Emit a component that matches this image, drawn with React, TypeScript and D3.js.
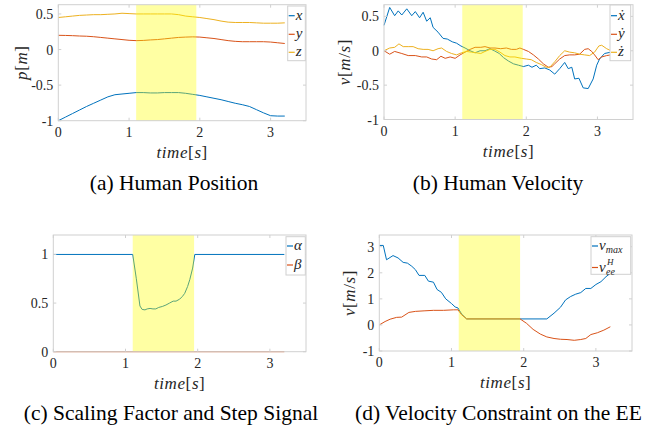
import * as d3 from "d3";
import React from "react";

type Pt = [number, number];

// ---- data ----
const posTime = [0, 0.1, 0.2, 0.3, 0.4, 0.5, 0.6, 0.7, 0.8, 0.9, 1.0, 1.1, 1.2, 1.3, 1.4, 1.5, 1.6, 1.7, 1.8, 1.9, 2.0, 2.1, 2.2, 2.3, 2.4, 2.5, 2.6, 2.7, 2.8, 2.9, 3.0, 3.1, 3.2];
const posX = [-1.0, -0.95, -0.9, -0.85, -0.8, -0.755, -0.71, -0.665, -0.635, -0.625, -0.615, -0.605, -0.605, -0.61, -0.61, -0.605, -0.605, -0.605, -0.615, -0.63, -0.645, -0.665, -0.685, -0.705, -0.73, -0.755, -0.775, -0.8, -0.845, -0.89, -0.93, -0.935, -0.935];
const posY = [0.2, 0.198, 0.195, 0.19, 0.187, 0.18, 0.17, 0.16, 0.15, 0.14, 0.13, 0.125, 0.128, 0.135, 0.14, 0.15, 0.16, 0.17, 0.175, 0.178, 0.175, 0.165, 0.155, 0.14, 0.125, 0.115, 0.11, 0.11, 0.11, 0.11, 0.105, 0.095, 0.085];
const posZ = [0.45, 0.46, 0.47, 0.48, 0.485, 0.49, 0.49, 0.495, 0.5, 0.51, 0.505, 0.5, 0.5, 0.5, 0.5, 0.5, 0.5, 0.49, 0.47, 0.46, 0.45, 0.435, 0.42, 0.4, 0.385, 0.38, 0.38, 0.38, 0.375, 0.37, 0.37, 0.37, 0.375];

const velX: Pt[] = [[0, 0.37], [0.08, 0.63], [0.15, 0.51], [0.2, 0.58], [0.25, 0.52], [0.32, 0.61], [0.39, 0.51], [0.44, 0.57], [0.5, 0.48], [0.55, 0.56], [0.6, 0.43], [0.65, 0.48], [0.69, 0.34], [0.76, 0.27], [0.83, 0.18], [0.89, 0.17], [0.96, 0.13], [1.02, 0.11], [1.08, 0.07], [1.14, 0.04], [1.21, 0.0], [1.28, -0.03], [1.35, 0.0], [1.42, 0.0], [1.49, 0.03], [1.55, 0.0], [1.62, -0.04], [1.68, -0.1], [1.75, -0.15], [1.82, -0.19], [1.89, -0.21], [1.96, -0.23], [2.03, -0.21], [2.08, -0.24], [2.14, -0.21], [2.19, -0.26], [2.26, -0.25], [2.33, -0.28], [2.4, -0.34], [2.47, -0.26], [2.54, -0.17], [2.59, -0.26], [2.64, -0.24], [2.68, -0.41], [2.74, -0.4], [2.8, -0.54], [2.87, -0.55], [2.94, -0.41], [2.99, -0.21], [3.03, -0.12], [3.1, -0.04], [3.19, -0.02]];
const velY: Pt[] = [[0, 0.0], [0.08, -0.05], [0.15, -0.01], [0.25, -0.04], [0.34, -0.07], [0.44, -0.07], [0.53, -0.09], [0.6, -0.09], [0.67, -0.12], [0.74, -0.13], [0.8, -0.08], [0.86, -0.11], [0.93, -0.09], [1.0, -0.11], [1.07, -0.06], [1.14, -0.02], [1.21, 0.02], [1.28, 0.05], [1.36, 0.05], [1.42, 0.06], [1.49, 0.04], [1.56, 0.04], [1.64, 0.03], [1.72, 0.04], [1.79, 0.02], [1.86, 0.02], [1.91, 0.04], [1.96, 0.02], [2.03, -0.01], [2.1, -0.06], [2.17, -0.12], [2.24, -0.19], [2.31, -0.24], [2.36, -0.23], [2.4, -0.19], [2.47, -0.12], [2.54, -0.07], [2.61, -0.06], [2.68, -0.06], [2.75, -0.05], [2.82, 0.02], [2.87, 0.03], [2.92, -0.01], [2.96, -0.06], [3.01, -0.13], [3.06, -0.09], [3.13, -0.07], [3.19, -0.06]];
const velZ: Pt[] = [[0, 0.0], [0.08, 0.04], [0.15, 0.05], [0.21, 0.1], [0.27, 0.06], [0.34, 0.06], [0.41, 0.06], [0.48, 0.03], [0.55, 0.02], [0.62, 0.02], [0.69, 0.0], [0.76, 0.03], [0.81, 0.04], [0.88, -0.01], [0.95, -0.04], [1.02, -0.06], [1.09, -0.03], [1.16, -0.01], [1.23, -0.02], [1.3, -0.03], [1.36, -0.04], [1.42, -0.01], [1.49, 0.02], [1.56, 0.02], [1.63, -0.02], [1.7, -0.07], [1.77, -0.09], [1.84, -0.09], [1.93, -0.11], [2.0, -0.12], [2.07, -0.13], [2.14, -0.17], [2.21, -0.2], [2.28, -0.24], [2.33, -0.24], [2.4, -0.16], [2.47, -0.07], [2.54, 0.0], [2.61, -0.02], [2.68, -0.03], [2.75, -0.05], [2.82, -0.06], [2.89, -0.07], [2.96, -0.02], [3.02, 0.07], [3.06, 0.08], [3.13, 0.03], [3.19, 0.0]];

const alphaSig: Pt[] = [[0, 1], [1.1, 1], [1.15, 0.75], [1.2, 0.47], [1.23, 0.435], [1.27, 0.43], [1.3, 0.44], [1.34, 0.445], [1.38, 0.44], [1.42, 0.44], [1.46, 0.455], [1.51, 0.465], [1.56, 0.48], [1.61, 0.5], [1.66, 0.52], [1.7, 0.52], [1.75, 0.54], [1.79, 0.57], [1.82, 0.6], [1.86, 0.67], [1.89, 0.74], [1.93, 0.86], [1.96, 1.0], [3.2, 1]];
const betaSig: Pt[] = [[0, 0], [3.2, 0]];

const vMax: Pt[] = [[0, 3.05], [0.055, 3.05], [0.1, 2.5], [0.19, 2.66], [0.26, 2.57], [0.33, 2.4], [0.39, 2.37], [0.45, 2.25], [0.5, 2.12], [0.55, 1.9], [0.63, 1.9], [0.68, 1.68], [0.75, 1.64], [0.8, 1.36], [0.86, 1.25], [0.92, 1.0], [1.0, 0.82], [1.05, 0.69], [1.09, 0.65], [1.14, 0.42], [1.21, 0.23], [2.32, 0.23], [2.42, 0.45], [2.51, 0.68], [2.58, 0.96], [2.65, 1.09], [2.72, 1.18], [2.79, 1.24], [2.86, 1.4], [2.93, 1.4], [3.0, 1.55], [3.07, 1.66], [3.14, 1.85], [3.2, 1.98]];
const vEE: Pt[] = [[0, 0.0], [0.08, 0.13], [0.15, 0.22], [0.24, 0.29], [0.31, 0.3], [0.41, 0.48], [0.5, 0.52], [0.62, 0.54], [0.75, 0.56], [0.89, 0.56], [1.03, 0.58], [1.09, 0.58], [1.14, 0.39], [1.21, 0.23], [1.95, 0.23], [2.04, 0.06], [2.13, -0.17], [2.23, -0.35], [2.32, -0.46], [2.42, -0.52], [2.51, -0.55], [2.6, -0.56], [2.7, -0.59], [2.79, -0.56], [2.86, -0.52], [2.93, -0.37], [3.02, -0.3], [3.11, -0.2], [3.2, -0.07]];

const bandStart = 1.1;
const bandEnd = 1.95;
const xTicks = [0, 1, 2, 3];
const posTicks = [-1, -0.5, 0, 0.5];
const velTicks = [-1, -0.5, 0, 0.5];
const scaleTicks = [0, 0.5, 1];
const vcTicks = [-1, 0, 1, 2, 3];

const BLUE = "#0072BD";
const ORANGE = "#D95319";
const YELLOW = "#EDB120";
const GRID = "#d0d0d0";
const INK = "#262626";
const FF = "Liberation Serif";

const zip = (t: number[], v: number[]): Pt[] => t.map((d, i) => [d, v[i]]);

type Label = (x: number, y: number) => React.ReactNode;
type Series = { label: Label; color: string; points: Pt[] };
type Spec = {
  left: number; right: number; top: number; bottom: number;
  yDomain: [number, number]; yTicks: number[];
  series: Series[];
  legend: { x: number; y: number; w: number; h: number; rows: number[] };
  yLabel?: React.ReactNode; yLabelX?: number;
  caption: string; captionX: number; captionY: number; captionAnchor: "middle" | "start";
};

// text with the serif face set on the element itself
function T(props: React.SVGProps<SVGTextElement>) {
  return <text {...props} fontFamily={FF} style={{ fontFamily: FF }} />;
}

const it = (s: string) => <tspan fontStyle="italic">{s}</tspan>;
const simple = (s: string): Label => (x, y) => (
  <T x={x} y={y} fontSize={15} fontStyle="italic" fill={INK}>{s}</T>
);

const panels: Spec[] = [
  {
    left: 58.3, right: 306, top: 4.7, bottom: 120.7, yDomain: [-1, 0.63], yTicks: posTicks,
    series: [
      { label: simple("x"), color: BLUE, points: zip(posTime, posX) },
      { label: simple("y"), color: ORANGE, points: zip(posTime, posY) },
      { label: simple("z"), color: YELLOW, points: zip(posTime, posZ) },
    ],
    legend: { x: 287.7, y: 6, w: 17.6, h: 54.7, rows: [15.7, 34.3, 52.3] },
    yLabel: <>{it("p")}[{it("m")}]</>, yLabelX: 27,
    caption: "(a) Human Position", captionX: 174, captionY: 190, captionAnchor: "middle",
  },
  {
    left: 384, right: 633, top: 4.7, bottom: 119.5, yDomain: [-1, 0.67], yTicks: velTicks,
    series: [
      { label: simple("\u1E8B"), color: BLUE, points: velX },
      { label: simple("\u1E8F"), color: ORANGE, points: velY },
      { label: simple("\u017C"), color: YELLOW, points: velZ },
    ],
    legend: { x: 610, y: 5, w: 20.7, h: 55.7, rows: [15.7, 34.3, 52.3] },
    yLabel: <>{it("v")}[{it("m")}/{it("s")}]</>, yLabelX: 350,
    caption: "(b) Human Velocity", captionX: 498, captionY: 190, captionAnchor: "middle",
  },
  {
    left: 53.3, right: 306, top: 235, bottom: 351.7, yDomain: [0, 1.2], yTicks: scaleTicks,
    series: [
      { label: simple("\u03B1"), color: BLUE, points: alphaSig },
      { label: simple("\u03B2"), color: ORANGE, points: betaSig },
    ],
    legend: { x: 286, y: 236.7, w: 19.3, h: 38.3, rows: [246, 265] },
    caption: "(c) Scaling Factor and Step Signal", captionX: 171, captionY: 420, captionAnchor: "middle",
  },
  {
    left: 379.3, right: 632, top: 235, bottom: 351, yDomain: [-1, 3.45], yTicks: vcTicks,
    series: [
      {
        label: (x, y) => (
          <T x={x} y={y} fill={INK} fontStyle="italic">
            <tspan fontSize={15}>v</tspan>
            <tspan fontSize={10} dy={2.5}>max</tspan>
          </T>
        ),
        color: BLUE, points: vMax,
      },
      {
        label: (x, y) => (
          <g fill={INK} fontStyle="italic">
            <T x={x} y={y} fontSize={15}>v</T>
            <T x={x + 8} y={y - 7} fontSize={9}>H</T>
            <T x={x + 7} y={y + 3.5} fontSize={10}>ee</T>
          </g>
        ),
        color: ORANGE, points: vEE,
      },
    ],
    legend: { x: 591, y: 236.7, w: 39.7, h: 37.6, rows: [246, 267.5] },
    yLabel: <>{it("v")}[{it("m")}/{it("s")}]</>, yLabelX: 355,
    caption: "(d) Velocity Constraint on the EE", captionX: 355, captionY: 420, captionAnchor: "start",
  },
];

function Panel({ spec }: { spec: Spec }) {
  const x = d3.scaleLinear().domain([0, 3.5]).range([spec.left, spec.right]);
  const y = d3.scaleLinear().domain(spec.yDomain).range([spec.bottom, spec.top]);
  const line = d3.line<Pt>().x((d) => x(d[0])).y((d) => y(d[1]));
  const lg = spec.legend;
  const midY = (spec.top + spec.bottom) / 2;
  return (
    <g>
      <rect x={spec.left} y={spec.top} width={spec.right - spec.left} height={spec.bottom - spec.top} fill="#fff" />
      {spec.series.map((s, i) => (
        <path key={i} d={line(s.points) ?? ""} fill="none" stroke={s.color} strokeWidth={1} strokeLinejoin="round" />
      ))}
      <rect x={x(bandStart)} y={spec.top} width={x(bandEnd) - x(bandStart)} height={spec.bottom - spec.top} fill="#ffff00" fillOpacity={0.36} />
      <rect x={spec.left} y={spec.top} width={spec.right - spec.left} height={spec.bottom - spec.top} fill="none" stroke={GRID} strokeWidth={1} />
      {xTicks.map((t) => (
        <g key={`x${t}`}>
          <line x1={x(t)} x2={x(t)} y1={spec.bottom} y2={spec.bottom - 3} stroke={GRID} />
          <line x1={x(t)} x2={x(t)} y1={spec.top} y2={spec.top + 3} stroke={GRID} />
          <T x={x(t)} y={spec.bottom + 16} textAnchor="middle" fontSize={14} fill={INK}>{String(t)}</T>
        </g>
      ))}
      {spec.yTicks.map((t) => (
        <g key={`y${t}`}>
          <line x1={spec.left} x2={spec.left + 3} y1={y(t)} y2={y(t)} stroke={GRID} />
          <line x1={spec.right} x2={spec.right - 3} y1={y(t)} y2={y(t)} stroke={GRID} />
          <T x={spec.left - 5} y={y(t) + 5} textAnchor="end" fontSize={14} fill={INK}>{String(t)}</T>
        </g>
      ))}
      <T x={x(1.75)} y={spec.bottom + 37} textAnchor="middle" fontSize={17} fill={INK} letterSpacing={0.6}>
        {it("time")}[{it("s")}]
      </T>
      {spec.yLabel && (
        <T transform={`translate(${spec.yLabelX},${midY}) rotate(-90)`} textAnchor="middle" fontSize={17} fill={INK} letterSpacing={0.6}>
          {spec.yLabel}
        </T>
      )}
      <rect x={lg.x} y={lg.y} width={lg.w} height={lg.h} fill="#fff" stroke={GRID} />
      {spec.series.map((s, i) => (
        <g key={`l${i}`}>
          <line x1={lg.x + 1} x2={lg.x + 7} y1={lg.rows[i]} y2={lg.rows[i]} stroke={s.color} strokeWidth={1.2} />
          {s.label(lg.x + 8, lg.rows[i] + 4)}
        </g>
      ))}
      <T x={spec.captionX} y={spec.captionY} textAnchor={spec.captionAnchor} fontSize={21.5} fill="#000">
        {spec.caption}
      </T>
    </g>
  );
}

export default function App() {
  return (
    <svg width={645} height={432} style={{ position: "absolute", left: 0, top: 0, fontFamily: FF }}>
      <rect width={645} height={432} fill="#fff" />
      {panels.map((p, i) => (
        <Panel key={i} spec={p} />
      ))}
    </svg>
  );
}
